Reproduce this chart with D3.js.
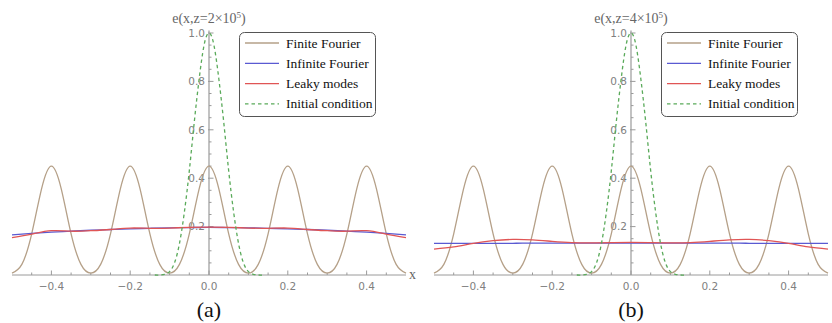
<!DOCTYPE html>
<html>
<head>
<meta charset="utf-8">
<script src="https://cdn.jsdelivr.net/npm/d3@7"></script>
<style>
  body { margin: 0; background: #fff; }
  svg { display: block; }
</style>
</head>
<body>
<svg id="chart" width="832" height="323"></svg>
<script>
// x samples (step 0.025) for the finite Fourier curve
const xFinite = d3.range(41).map(i => -0.5 + i * 0.025)
const finiteA = [0.008, 0.044, 0.17, 0.356, 0.45, 0.356, 0.17, 0.044, 0.008, 0.044, 0.17, 0.356, 0.45, 0.356, 0.17, 0.044,
                 0.008, 0.044, 0.17, 0.356, 0.45, 0.356, 0.17, 0.044, 0.008, 0.044, 0.17, 0.356, 0.45, 0.356, 0.17, 0.044,
                 0.008, 0.044, 0.17, 0.356, 0.45, 0.356, 0.17, 0.044, 0.008]
const finiteB = [0.008, 0.044, 0.17, 0.356, 0.45, 0.356, 0.17, 0.044, 0.008, 0.044, 0.17, 0.356, 0.45, 0.356, 0.17, 0.044,
                 0.008, 0.044, 0.17, 0.356, 0.45, 0.356, 0.17, 0.044, 0.008, 0.044, 0.17, 0.356, 0.45, 0.356, 0.17, 0.044,
                 0.008, 0.044, 0.17, 0.356, 0.45, 0.356, 0.17, 0.044, 0.008]

// x samples (step 0.05) for the smooth curves
const xSmooth = d3.range(21).map(i => -0.5 + i * 0.05)
const infiniteA = [0.166, 0.172, 0.177, 0.181, 0.185, 0.188, 0.191, 0.193, 0.195, 0.196, 0.197,
                   0.196, 0.195, 0.193, 0.191, 0.188, 0.185, 0.181, 0.177, 0.172, 0.166]
const leakyA = [0.154, 0.169, 0.183, 0.181, 0.183, 0.188, 0.194, 0.193, 0.194, 0.197, 0.198,
                0.197, 0.194, 0.193, 0.194, 0.188, 0.183, 0.181, 0.183, 0.169, 0.154]
const infiniteB = [0.131, 0.131, 0.131, 0.131, 0.131, 0.132, 0.132, 0.132, 0.132, 0.132, 0.132,
                   0.132, 0.132, 0.132, 0.132, 0.132, 0.131, 0.131, 0.131, 0.131, 0.131]
const leakyB = [0.107, 0.116, 0.131, 0.142, 0.147, 0.145, 0.139, 0.134, 0.133, 0.134, 0.135,
                0.134, 0.133, 0.134, 0.139, 0.145, 0.147, 0.142, 0.131, 0.116, 0.107]

// initial condition (same for both panels)
const xInit = d3.range(23).map(i => -0.1375 + i * 0.0125)
const initial = [0, 0, 0.003, 0.014, 0.05, 0.13, 0.26, 0.43, 0.63, 0.81, 0.95, 1.0,
                 0.95, 0.81, 0.63, 0.43, 0.26, 0.13, 0.05, 0.014, 0.003, 0, 0]

const xTicks = [-0.4, -0.2, 0.0, 0.2, 0.4]
const yTicks = [0.2, 0.4, 0.6, 0.8, 1.0]
const legendNames = ["Finite Fourier", "Infinite Fourier", "Leaky modes", "Initial condition"]
const colors = ["#b5a088", "#5a5ad2", "#e05555", "#5aaa5a"]

const panels = [
    { zExp: "2", caption: "(a)", range: [12, 406], finite: finiteA, infinite: infiniteA, leaky: leakyA, legendX: 239, xLabel: true },
    { zExp: "4", caption: "(b)", range: [434, 828], finite: finiteB, infinite: infiniteB, leaky: leakyB, legendX: 661, xLabel: false }
]

const svg = d3.select("#chart")
const axisColor = "#9a9a9a"
const labelColor = "#808080"

const yScale = d3.scaleLinear().domain([0, 1]).range([275, 33])

panels.forEach(p => {
    const xScale = d3.scaleLinear().domain([-0.5, 0.5]).range(p.range)
    const x0 = xScale(0)
    const g = svg.append("g")

    // axes
    g.append("line").attr("x1", p.range[0]).attr("x2", p.range[1])
        .attr("y1", yScale(0)).attr("y2", yScale(0))
        .attr("stroke", axisColor).attr("stroke-width", 1)
    g.append("line").attr("x1", x0).attr("x2", x0)
        .attr("y1", yScale(0)).attr("y2", yScale(1.01))
        .attr("stroke", axisColor).attr("stroke-width", 1.2)

    // x ticks, minor every 0.05
    const xMinor = d3.range(-9, 10).map(i => i * 0.05).filter(v => Math.abs(v * 5 - Math.round(v * 5)) > 1e-6)
    g.selectAll(".xminor").data(xMinor).enter().append("line")
        .attr("x1", d => xScale(d)).attr("x2", d => xScale(d))
        .attr("y1", yScale(0)).attr("y2", yScale(0) - 2.5)
        .attr("stroke", axisColor)
    g.selectAll(".xmajor").data(xTicks).enter().append("line")
        .attr("x1", d => xScale(d)).attr("x2", d => xScale(d))
        .attr("y1", yScale(0)).attr("y2", yScale(0) - 4.5)
        .attr("stroke", axisColor)
    g.selectAll(".xlab").data(xTicks).enter().append("text")
        .attr("x", d => xScale(d)).attr("y", 290)
        .attr("text-anchor", "middle")
        .attr("font-family", "'DejaVu Sans', sans-serif").attr("font-size", 10.5)
        .attr("fill", labelColor)
        .text(d => d3.format(".1f")(d).replace("-", "−"))

    // y ticks, minor every 0.05
    const yMinor = d3.range(1, 20).map(i => i * 0.05).filter(v => Math.abs(v * 5 - Math.round(v * 5)) > 1e-6)
    g.selectAll(".yminor").data(yMinor).enter().append("line")
        .attr("x1", x0).attr("x2", x0 + 2.5)
        .attr("y1", d => yScale(d)).attr("y2", d => yScale(d))
        .attr("stroke", axisColor)
    g.selectAll(".ymajor").data(yTicks).enter().append("line")
        .attr("x1", x0 - 1).attr("x2", x0 + 4.5)
        .attr("y1", d => yScale(d)).attr("y2", d => yScale(d))
        .attr("stroke", axisColor)
    g.selectAll(".ylab").data(yTicks).enter().append("text")
        .attr("x", x0 - 4).attr("y", d => yScale(d) + 3.8)
        .attr("text-anchor", "end")
        .attr("font-family", "'DejaVu Sans', sans-serif").attr("font-size", 10.5)
        .attr("fill", labelColor)
        .text(d => d3.format(".1f")(d))

    // curves
    const line = d3.line().x(d => xScale(d[0])).y(d => yScale(d[1])).curve(d3.curveNatural)
    const series = [
        d3.zip(xFinite, p.finite),
        d3.zip(xSmooth, p.infinite),
        d3.zip(xSmooth, p.leaky),
        d3.zip(xInit, initial)
    ]
    series.forEach((s, i) => {
        g.append("path").datum(s)
            .attr("d", line)
            .attr("fill", "none")
            .attr("stroke", colors[i])
            .attr("stroke-width", 1.3)
            .attr("stroke-dasharray", i == 3 ? "3.5,3" : null)
    })

    // title
    const title = g.append("text")
        .attr("x", x0).attr("y", 23)
        .attr("text-anchor", "middle")
        .attr("font-family", "'Liberation Serif', 'Times New Roman', serif").attr("font-size", 14)
        .attr("fill", "#666")
    title.append("tspan").text("e(x,z=" + p.zExp + "×10")
    title.append("tspan").attr("dy", -5).attr("font-size", 9).text("5")
    title.append("tspan").attr("dy", 5).text(")")

    if (p.xLabel) {
        g.append("text")
            .attr("x", 409).attr("y", 279)
            .attr("font-family", "'Liberation Serif', serif").attr("font-size", 14)
            .attr("fill", "#666")
            .text("x")
    }

    // caption
    g.append("text")
        .attr("x", x0).attr("y", 317)
        .attr("text-anchor", "middle")
        .attr("font-family", "'Liberation Serif', 'Times New Roman', serif").attr("font-size", 22)
        .attr("fill", "#111")
        .text(p.caption)

    // legend
    const lg = g.append("g").attr("transform", `translate(${p.legendX}, 32)`)
    lg.append("rect")
        .attr("x", 0.5).attr("y", 0.5).attr("width", 136).attr("height", 84)
        .attr("rx", 5).attr("ry", 5)
        .attr("fill", "#fff").attr("stroke", "#555").attr("stroke-width", 1)
    legendNames.forEach((name, i) => {
        const cy = 11 + i * 20.3
        lg.append("line")
            .attr("x1", 6).attr("x2", 40).attr("y1", cy).attr("y2", cy)
            .attr("stroke", colors[i]).attr("stroke-width", 1.3)
            .attr("stroke-dasharray", i == 3 ? "3.5,3" : null)
        lg.append("text")
            .attr("x", 47).attr("y", cy + 4.5)
            .attr("font-family", "'Liberation Serif', 'Times New Roman', serif").attr("font-size", 13.5)
            .attr("fill", "#111")
            .text(name)
    })
})
</script>
</body>
</html>
